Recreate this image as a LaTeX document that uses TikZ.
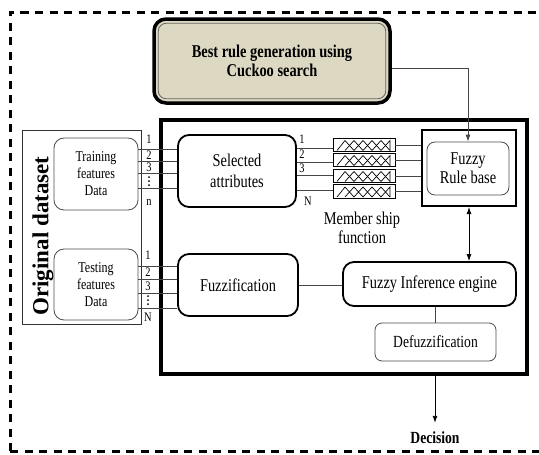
\documentclass[tikz,border=0pt]{standalone}
\usepackage{fontspec}
\setmainfont[FakeStretch=0.8]{Liberation Serif}
\newfontfamily\wideserif{Liberation Serif}
\usetikzlibrary{arrows.meta}
\definecolor{beige}{RGB}{220,216,194}
\definecolor{lineg}{RGB}{70,70,70}
\begin{document}
\begin{tikzpicture}[x=1pt,y=-1pt,
  conn/.style={draw=lineg, line width=1pt},
  thickrbox/.style={draw, line width=1.8pt, rounded corners=11pt, inner sep=0pt},
  thinrbox/.style={draw=black!70, line width=0.8pt, rounded corners=10pt, inner sep=0pt},
  lab/.style={font=\fontsize{13}{13}\selectfont, inner sep=0pt},
  mtxt/.style={font=\fontsize{18}{21}\selectfont, align=center},
  arr/.style={-{Latex[length=7pt,width=5pt]}, line width=0.9pt},
  darr/.style={{Latex[length=7pt,width=5pt]}-{Latex[length=7pt,width=5pt]}, line width=0.9pt},
  mfbox/.style={draw, line width=0.9pt, minimum width=62pt, minimum height=13.5pt, inner sep=0pt}
]
\useasboundingbox (0,0) rectangle (539,455);
% outer dashed frame
\draw[line width=3pt, dash pattern=on 8pt off 6.5pt] (10,451) -- (10,12) -- (545,12);
\draw[line width=3pt, dash pattern=on 8pt off 6.5pt] (10,451) -- (545,451);

% top box
\node[draw, fill=beige, line width=3.5pt, rounded corners=12pt, minimum width=236pt, minimum height=84pt,
      font=\bfseries\fontsize{18}{19}\selectfont, align=center] (best) at (272,61)
      {Best rule generation using\\Cuckoo search};
\draw[black!60, line width=0.8pt, rounded corners=8pt]
  ([shift={(6pt,-6pt)}]best.north west) rectangle ([shift={(-6pt,6pt)}]best.south east);

% main frame
\node[draw, line width=4pt, minimum width=366pt, minimum height=254pt, inner sep=0pt] (frame) at (344,247) {};

% original dataset
\node[draw=black!80, line width=0.8pt, minimum width=119pt, minimum height=194pt, inner sep=0pt] (ds) at (81.5,227) {};
\node[rotate=90, font=\wideserif\bfseries\fontsize{23}{23}\selectfont, inner sep=0pt] (dslab) at (43,236) {Original dataset};
\node[thinrbox, minimum width=84pt, minimum height=72pt, align=center, font=\fontsize{15}{17}\selectfont] (train) at (96,174) {Training\\features\\Data};
\node[thinrbox, minimum width=84pt, minimum height=71pt, align=center, font=\fontsize{15}{17}\selectfont] (test) at (96,284.5) {Testing\\features\\Data};

% processing boxes
\node[thickrbox, mtxt, minimum width=118pt, minimum height=72pt] (sel) at (237,171) {Selected\\attributes};
\node[thickrbox, mtxt, minimum width=120pt, minimum height=62pt] (fuzz) at (238,285) {Fuzzification};
\node[draw, line width=2pt, minimum width=94pt, minimum height=76pt, inner sep=0pt] (ruleout) at (469,168) {};
\node[thinrbox, rounded corners=8pt, minimum width=82pt, minimum height=53pt, font=\fontsize{18}{19}\selectfont, align=center] (rulein) at (468,168.5) {Fuzzy\\Rule base};
\node[thickrbox, mtxt, minimum width=173pt, minimum height=44pt] (inf) at (429.5,284) {Fuzzy Inference engine};
\node[thinrbox, rounded corners=7pt, minimum width=121pt, minimum height=38pt, font=\fontsize{17}{17}\selectfont] (defuzz) at (435.5,342) {Defuzzification};
\node[font=\bfseries\fontsize{17}{17}\selectfont, inner sep=0pt] (dec) at (435,438) {Decision};
\node[mtxt, font=\fontsize{18}{19}\selectfont, inner sep=0pt] (mlab) at (362,228) {Member ship\\function};

% membership function boxes
\foreach \i/\c in {1/145,2/160,3/176,4/191.5} {
  \node[mfbox] (mf\i) at (364,\c) {};
  \draw[line width=0.7pt] (337,\c+5.5) -- (345,\c-4.5) -- (354,\c+5.5) -- (363,\c-4.5) -- (372,\c+5.5) -- (381,\c-4.5) -- (390,\c+5.5);
  \draw[line width=0.7pt] (345,\c+5.5) -- (354,\c-4.5) -- (363,\c+5.5) -- (372,\c-4.5) -- (381,\c+5.5) -- (390,\c-4.5) -- (390,\c+5.5);
}

% training -> selected attributes
\foreach \y in {149,161,173,188} {
  \coordinate (ty) at (0,\y);
  \draw[conn] (train.east |- ty) -- (sel.west |- ty);
}
\node[lab] (t1) at (149,139) {1};
\node[lab] (t2) at (149,155) {2};
\node[lab] (t3) at (149,167) {3};
\node[lab] (tn) at (149,202) {n};
\foreach \y in {177,181,185} \fill (149,\y) circle (1pt);

% testing -> fuzzification
\foreach \y in {266,279,293,308} {
  \coordinate (sy) at (0,\y);
  \draw[conn] (test.east |- sy) -- (fuzz.west |- sy);
}
\node[lab] (s1) at (148,255) {1};
\node[lab] (s2) at (148,272) {2};
\node[lab] (s3) at (148,286) {3};
\node[lab] (sn) at (148,317) {N};
\foreach \y in {296,300,304} \fill (148,\y) circle (1pt);

% selected -> membership functions
\foreach \y in {148,162,175,190} {
  \coordinate (my) at (0,\y);
  \draw[conn] (sel.east |- my) -- (mf1.west |- my);
}
\node[lab] (m1) at (302,139) {1};
\node[lab] (m2) at (302,154) {2};
\node[lab] (m3) at (302,168) {3};
\node[lab] (mn) at (308,201) {N};

% membership -> rule base
\foreach \i in {1,2,3,4} \draw[conn] (mf\i.east) -- (mf\i.east -| ruleout.west);

% connectors
\coordinate (ya) at (0,68);
\draw[arr, draw=lineg] (best.east |- ya) -| (rulein.north);
\draw[darr] (ruleout.south) -- (ruleout.south |- inf.north);
\draw[conn] (fuzz.east) -- (fuzz.east -| inf.west);
\draw[conn] (defuzz.north |- inf.south) -- (defuzz.north);
\draw[arr] (frame.south -| dec) -- ([yshift=9pt]dec.north);
\end{tikzpicture}
\end{document}
